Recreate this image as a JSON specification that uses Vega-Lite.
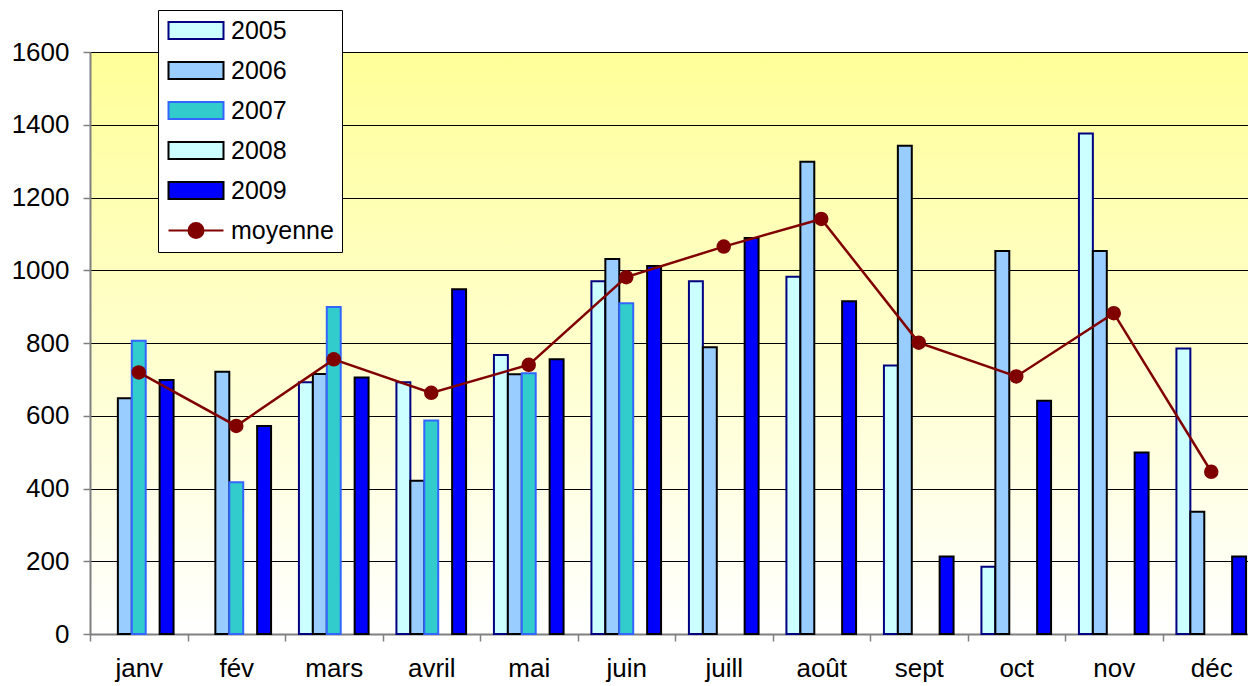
{
  "$schema": "https://vega.github.io/schema/vega-lite/v6.json",
  "autosize": {"type": "none"},
  "width": 1158,
  "height": 582,
  "padding": {"left": 90, "top": 52, "right": 0, "bottom": 52},
  "background": "white",
  "config": {
    "font": "Liberation Sans",
    "view": {
      "stroke": null,
      "fill": {
        "gradient": "linear",
        "x1": 0, "y1": 0, "x2": 0, "y2": 1,
        "stops": [
          {"offset": 0, "color": "#FFFF99"},
          {"offset": 1, "color": "#FFFFFF"}
        ]
      }
    },
    "axis": {
      "labelFont": "Liberation Sans",
      "labelFontSize": 26,
      "labelColor": "#000000",
      "domainColor": "#808080",
      "domainWidth": 2,
      "tickColor": "#808080",
      "tickWidth": 1.5,
      "tickSize": 7,
      "title": null
    },
    "legend": {
      "orient": "none",
      "legendX": 68,
      "legendY": -42,
      "fillColor": "#FFFFFF",
      "strokeColor": "#000000",
      "padding": 8,
      "labelFont": "Liberation Sans",
      "labelFontSize": 25,
      "labelColor": "#000000",
      "labelOffset": 40,
      "symbolSize": 400,
      "rowPadding": 14,
      "symbolStrokeWidth": 2,
      "symbolOpacity": 1
    }
  },
  "data": {
    "values": [
      {"month": "janv", "series": "2006", "value": 648},
      {"month": "janv", "series": "2007", "value": 806},
      {"month": "janv", "series": "2009", "value": 698},
      {"month": "janv", "series": "moyenne", "value": 719},
      {"month": "fév", "series": "2006", "value": 721},
      {"month": "fév", "series": "2007", "value": 417},
      {"month": "fév", "series": "2009", "value": 572},
      {"month": "fév", "series": "moyenne", "value": 572},
      {"month": "mars", "series": "2005", "value": 692},
      {"month": "mars", "series": "2006", "value": 715},
      {"month": "mars", "series": "2007", "value": 899},
      {"month": "mars", "series": "2009", "value": 705},
      {"month": "mars", "series": "moyenne", "value": 755},
      {"month": "avril", "series": "2005", "value": 692},
      {"month": "avril", "series": "2006", "value": 421},
      {"month": "avril", "series": "2007", "value": 587},
      {"month": "avril", "series": "2009", "value": 948},
      {"month": "avril", "series": "moyenne", "value": 663},
      {"month": "mai", "series": "2005", "value": 767},
      {"month": "mai", "series": "2006", "value": 714},
      {"month": "mai", "series": "2007", "value": 717},
      {"month": "mai", "series": "2009", "value": 755},
      {"month": "mai", "series": "moyenne", "value": 740},
      {"month": "juin", "series": "2005", "value": 970},
      {"month": "juin", "series": "2006", "value": 1031},
      {"month": "juin", "series": "2007", "value": 909},
      {"month": "juin", "series": "2009", "value": 1012},
      {"month": "juin", "series": "moyenne", "value": 981},
      {"month": "juill", "series": "2005", "value": 970},
      {"month": "juill", "series": "2006", "value": 788},
      {"month": "juill", "series": "2009", "value": 1089},
      {"month": "juill", "series": "moyenne", "value": 1065},
      {"month": "août", "series": "2005", "value": 982},
      {"month": "août", "series": "2006", "value": 1298},
      {"month": "août", "series": "2009", "value": 915},
      {"month": "août", "series": "moyenne", "value": 1141},
      {"month": "sept", "series": "2005", "value": 738},
      {"month": "sept", "series": "2006", "value": 1342},
      {"month": "sept", "series": "2009", "value": 213},
      {"month": "sept", "series": "moyenne", "value": 801},
      {"month": "oct", "series": "2005", "value": 185},
      {"month": "oct", "series": "2006", "value": 1053},
      {"month": "oct", "series": "2009", "value": 641},
      {"month": "oct", "series": "moyenne", "value": 708},
      {"month": "nov", "series": "2005", "value": 1376},
      {"month": "nov", "series": "2006", "value": 1053},
      {"month": "nov", "series": "2009", "value": 499},
      {"month": "nov", "series": "moyenne", "value": 882},
      {"month": "déc", "series": "2005", "value": 785},
      {"month": "déc", "series": "2006", "value": 336},
      {"month": "déc", "series": "2009", "value": 213},
      {"month": "déc", "series": "moyenne", "value": 446}
    ]
  },
  "encoding": {
    "x": {
      "field": "month",
      "type": "nominal",
      "scale": {
        "domain": ["janv", "fév", "mars", "avril", "mai", "juin", "juill", "août", "sept", "oct", "nov", "déc"],
        "range": [0, 1170],
        "paddingInner": 0,
        "paddingOuter": 0
      },
      "axis": {"labelAngle": 0, "tickBand": "extent", "labelPadding": 14, "grid": false}
    },
    "y": {
      "field": "value",
      "type": "quantitative",
      "scale": {"domain": [0, 1600], "nice": false},
      "axis": {
        "values": [0, 200, 400, 600, 800, 1000, 1200, 1400, 1600],
        "format": "d",
        "grid": true,
        "gridColor": "#000000",
        "gridWidth": 1,
        "labelPadding": 14
      }
    }
  },
  "layer": [
    {
      "transform": [{"filter": "datum.series !== 'moyenne'"}],
      "mark": {"type": "bar", "strokeWidth": 2, "fillOpacity": 1},
      "encoding": {
        "xOffset": {
          "field": "series",
          "type": "nominal",
          "scale": {"domain": ["2005", "2006", "2007", "2008", "2009"], "paddingInner": 0, "paddingOuter": 1.5}
        },
        "fill": {
          "field": "series",
          "type": "nominal",
          "scale": {
            "domain": ["2005", "2006", "2007", "2008", "2009", "moyenne"],
            "range": ["#CCFFFF", "#99CCFF", "#33CCCC", "#CCFFFF", "#0000FF", "#800000"]
          },
          "legend": {
            "title": null,
            "encode": {
              "symbols": {
                "update": {
                  "shape": {"signal": "datum.value === 'moyenne' ? 'M-1,0H4.5M1,0A0.75,0.75 0 1,0 2.5,0A0.75,0.75 0 1,0 1,0Z' : 'M-1,-0.85H4.5V0.85H-1Z'"}
                }
              }
            }
          }
        },
        "stroke": {
          "field": "series",
          "type": "nominal",
          "scale": {
            "domain": ["2005", "2006", "2007", "2008", "2009", "moyenne"],
            "range": ["#000080", "#000000", "#3366FF", "#000000", "#000000", "#800000"]
          },
          "legend": {"title": null}
        }
      }
    },
    {
      "transform": [{"filter": "datum.series === 'moyenne'"}],
      "mark": {"type": "line", "strokeWidth": 2.5},
      "encoding": {
        "stroke": {"field": "series", "type": "nominal", "legend": {"title": null}}
      }
    },
    {
      "transform": [{"filter": "datum.series === 'moyenne'"}],
      "mark": {"type": "point", "filled": true, "size": 210, "color": "#800000", "opacity": 1}
    }
  ],
  "resolve": {"legend": {"fill": "shared", "stroke": "shared"}}
}
